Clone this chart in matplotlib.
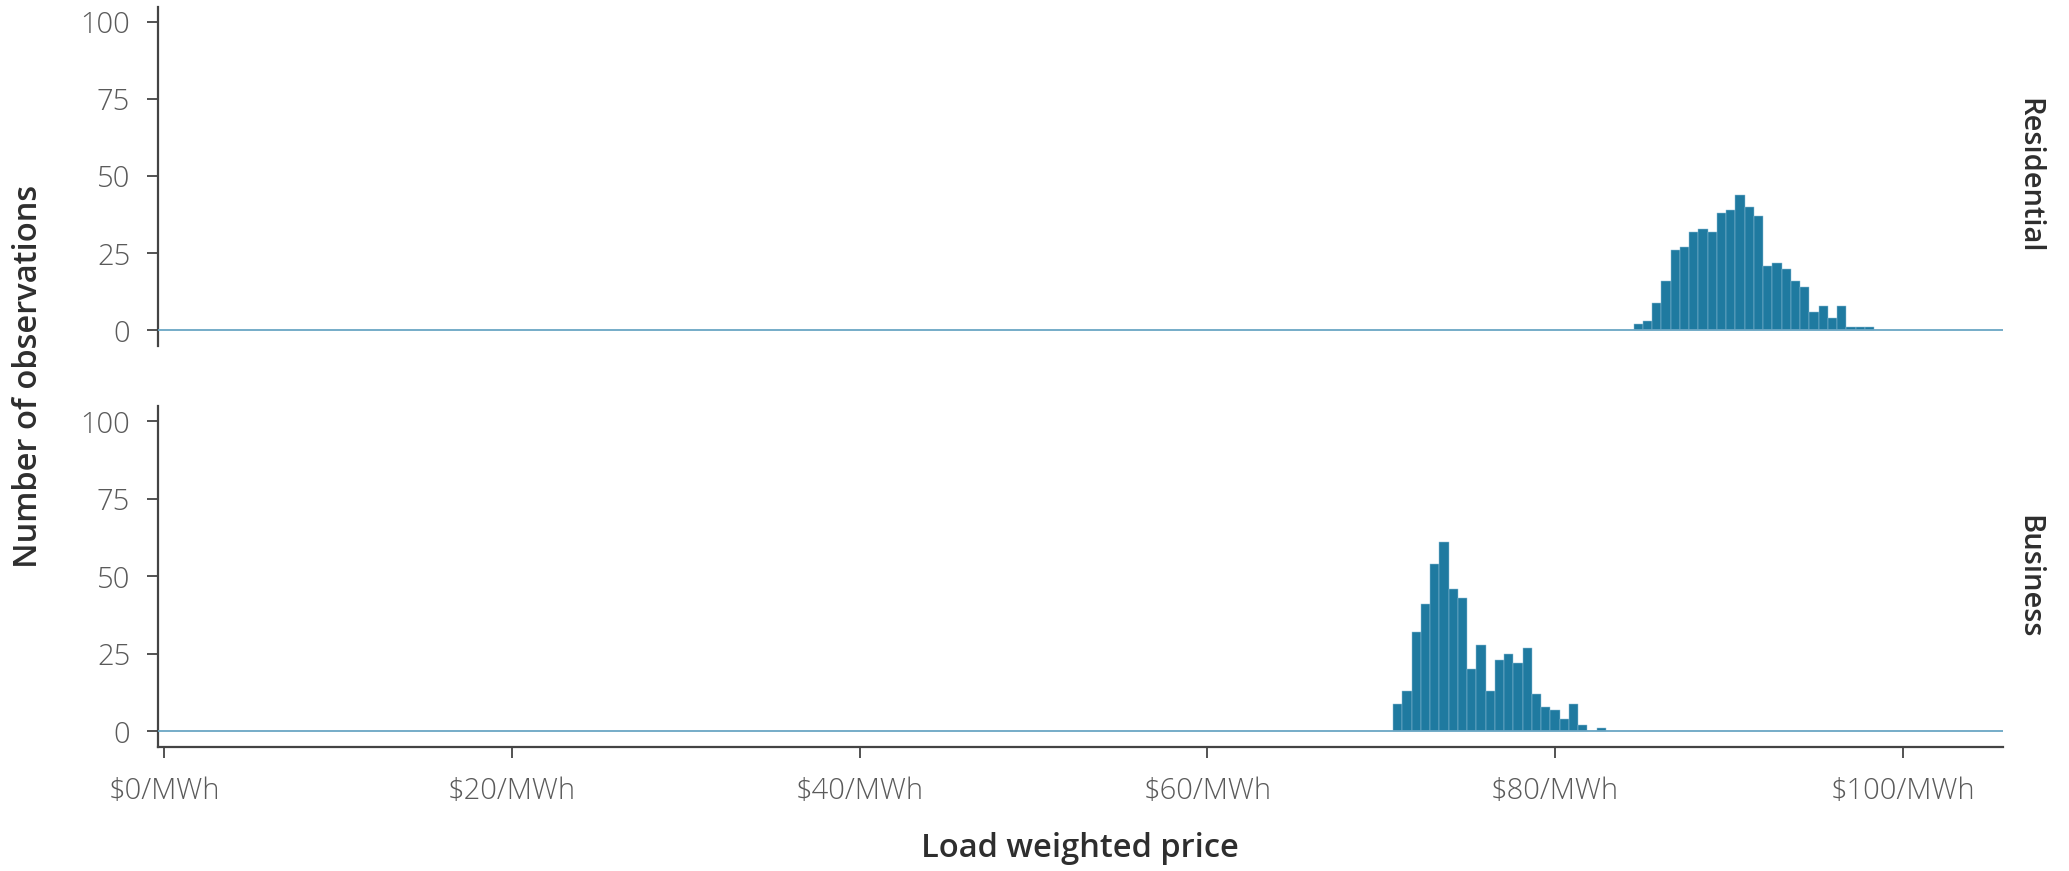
import numpy as np
import matplotlib.pyplot as plt

# histogram bins shared by both panels ($/MWh)
first_edge = 70.69
bin_width = 0.532

# counts per bin, Business starts at bin 0, Residential at bin 26
bus_counts = [9, 13, 32, 41, 54, 61, 46, 43, 20, 28, 13, 23, 25, 22, 27,
              12, 8, 7, 4, 9, 2, 0, 1]
res_counts = [2, 3, 9, 16, 26, 27, 32, 33, 32, 38, 39, 44, 40, 37, 21, 22,
              20, 16, 14, 6, 8, 4, 8, 1, 1, 1]
res_offset = 26

panels = ["Residential", "Business"]
x_ticks = [0, 20, 40, 60, 80, 100]
x_labels = ["$0/MWh", "$20/MWh", "$40/MWh", "$60/MWh", "$80/MWh", "$100/MWh"]
y_ticks = [0, 25, 50, 75, 100]

BAR = "#1f7aa0"
EDGE = "#8fbfd6"
HLINE = "#6aa6c4"
SPINE = "#444444"
TICKTXT = "#5a5a5a"
TITLE = "#2e2e2e"

plt.rcParams["font.family"] = ["Open Sans", "DejaVu Sans"]


def draw_panel(ax, counts, offset, label, bottom):
    lefts = first_edge + bin_width * (np.arange(len(counts)) + offset)
    ax.bar(lefts, counts, width=bin_width, align="edge", color=BAR,
           edgecolor=EDGE, linewidth=0.35, zorder=2)
    ax.axhline(0, color=HLINE, linewidth=1.3, zorder=3)
    ax.set_xlim(-0.35, 105.75)
    ax.set_ylim(-5, 105)
    ax.set_yticks(y_ticks)
    ax.set_yticklabels([str(v) for v in y_ticks], fontsize=21,
                       color=TICKTXT, fontweight="light")
    for s in ["top", "right"]:
        ax.spines[s].set_visible(False)
    ax.spines["left"].set_color(SPINE)
    ax.spines["left"].set_linewidth(1.6)
    ax.tick_params(axis="y", length=8, width=1.3, color=SPINE, pad=12)
    if bottom:
        ax.spines["bottom"].set_color(SPINE)
        ax.spines["bottom"].set_linewidth(1.6)
        ax.set_xticks(x_ticks)
        ax.set_xticklabels(x_labels, fontsize=21, color=TICKTXT,
                           fontweight="light")
        ax.tick_params(axis="x", length=8, width=1.3, color=SPINE, pad=13)
    else:
        ax.spines["bottom"].set_visible(False)
        ax.set_xticks([])
    ax.text(1.0 + 26 / 1845, 0.5, label, transform=ax.transAxes,
            rotation=270, ha="center", va="center", fontsize=21,
            fontweight="semibold", color=TITLE)


def main():
    fig = plt.figure(figsize=(20.69, 8.71), dpi=100)
    left, width = 0.0764, 0.8916
    ax_top = fig.add_axes([left, 0.603, width, 0.9924 - 0.603])
    ax_bot = fig.add_axes([left, 0.1424, width, 0.534 - 0.1424])

    draw_panel(ax_top, res_counts, res_offset, panels[0], bottom=False)
    draw_panel(ax_bot, bus_counts, 0, panels[1], bottom=True)

    fig.text(29 / 2069, 1 - 376 / 871, "Number of observations", rotation=90,
             ha="center", va="center", fontsize=23.5, fontweight="semibold",
             color=TITLE)
    fig.text(1080 / 2069, 1 - 848 / 871, "Load weighted price", ha="center",
             va="center", fontsize=23.5, fontweight="semibold", color=TITLE)

    fig.savefig("out.png", dpi=100)


if __name__ == "__main__":
    main()
